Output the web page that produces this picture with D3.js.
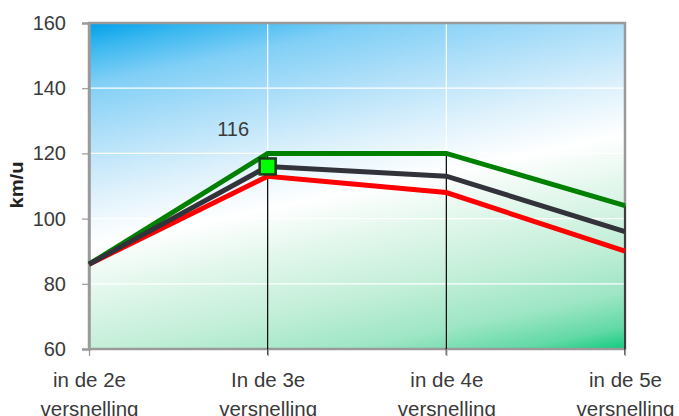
<!DOCTYPE html>
<html>
<head>
<meta charset="utf-8">
<script src="https://cdn.jsdelivr.net/npm/d3@7"></script>
<style>
  html, body { margin: 0; padding: 0; background: #fff; }
  svg { display: block; font-family: "Liberation Sans", Arial, sans-serif; }
</style>
</head>
<body>
<svg id="chart" width="679" height="416"></svg>
<script>
// Gear positions along the x axis
const categories = [
  ["in de 2e", "versnelling"],
  ["In de 3e", "versnelling"],
  ["in de 4e", "versnelling"],
  ["in de 5e", "versnelling"]
];
// Speed (km/u) per gear for each series
const greenValues = [86, 120, 120, 104];
const darkValues  = [86, 116, 113, 96];
const redValues   = [86, 113, 108, 90];
const yTicks = [60, 80, 100, 120, 140, 160];
const yTitle = "km/u";
const markedIndex = 1; // highlighted point on the dark series

const textColor = "#3a3a3a";
const svg = d3.select("#chart");
const plotL = 89, plotR = 625, plotT = 23, plotB = 349;

const x = d3.scalePoint().domain(d3.range(categories.length)).range([plotL, plotR]);
const y = d3.scaleLinear().domain([60, 160]).range([plotB, plotT]);

// Background gradient: deep blue top-left, white band across the middle,
// deep green bottom-right; the band tilts slightly upward to the right.
const defs = svg.append("defs");
const gLen = 428;
const grad = defs.append("linearGradient")
  .attr("id", "bg").attr("gradientUnits", "userSpaceOnUse")
  .attr("x1", plotL).attr("y1", plotT)
  .attr("x2", plotL + 0.204 * gLen).attr("y2", plotT + 0.979 * gLen);
[
  [0.00, "#00a0ea"],
  [0.06, "#3cb8f0"],
  [0.14, "#80cff6"],
  [0.26, "#aedff9"],
  [0.40, "#dff2fc"],
  [0.51, "#ffffff"],
  [0.62, "#e2f7ec"],
  [0.75, "#c4efd9"],
  [0.87, "#9ee6c5"],
  [0.95, "#62d9a6"],
  [1.00, "#10cc80"]
].forEach(([o, c]) => grad.append("stop").attr("offset", o).attr("stop-color", c));

svg.append("rect")
  .attr("x", plotL).attr("y", plotT)
  .attr("width", plotR - plotL).attr("height", plotB - plotT)
  .attr("fill", "url(#bg)");

// White gridlines
svg.append("g").selectAll("line").data(yTicks.slice(1, -1)).join("line")
  .attr("x1", plotL).attr("x2", plotR)
  .attr("y1", d => y(d)).attr("y2", d => y(d))
  .attr("stroke", "#fff").attr("stroke-width", 1.2);
svg.append("g").selectAll("line").data(d3.range(1, categories.length - 1)).join("line")
  .attr("x1", d => x(d)).attr("x2", d => x(d))
  .attr("y1", plotT).attr("y2", plotB)
  .attr("stroke", "#fff").attr("stroke-width", 1.2);

// Plot border
svg.append("rect")
  .attr("x", plotL).attr("y", plotT)
  .attr("width", plotR - plotL).attr("height", plotB - plotT)
  .attr("fill", "none").attr("stroke", "#9a9a9a").attr("stroke-width", 2.5);

// Drop lines from the highest value down to the axis
const maxVals = categories.map((_, i) => Math.max(greenValues[i], darkValues[i], redValues[i]));
svg.append("g").selectAll("line").data(d3.range(1, categories.length)).join("line")
  .attr("x1", d => x(d)).attr("x2", d => x(d))
  .attr("y1", d => y(maxVals[d])).attr("y2", plotB + 6)
  .attr("stroke", "#000").attr("stroke-width", 1.2);

// Y axis
const yAxis = svg.append("g").attr("transform", `translate(${plotL},0)`)
  .call(d3.axisLeft(y).tickValues(yTicks).tickSize(7).tickPadding(16).tickFormat(d3.format("d")));
yAxis.select(".domain").attr("stroke", "#9a9a9a").attr("stroke-width", 2.5);
yAxis.selectAll(".tick line").attr("stroke", "#9a9a9a").attr("stroke-width", 1.2);
yAxis.selectAll(".tick text").attr("font-size", 20).attr("fill", textColor)
  .attr("font-family", "Liberation Sans, Arial, sans-serif");

// X axis
const xAxis = svg.append("g").attr("transform", `translate(0,${plotB})`)
  .call(d3.axisBottom(x).tickSize(7).tickFormat(""));
xAxis.select(".domain").remove();
xAxis.selectAll(".tick line").attr("stroke", "#9a9a9a").attr("stroke-width", 1.2);
xAxis.selectAll(".tick").each(function (d) {
  const t = d3.select(this).append("text")
    .attr("text-anchor", "middle").attr("fill", textColor)
    .attr("font-size", 20.5).attr("font-family", "Liberation Sans, Arial, sans-serif");
  categories[d].forEach((line, k) => {
    t.append("tspan").attr("x", 0).attr("y", 38 + k * 28.5).text(line);
  });
});

// Y axis title
svg.append("text")
  .attr("transform", `translate(23,185) rotate(-90)`)
  .attr("text-anchor", "middle").attr("font-weight", "bold")
  .attr("font-size", 18).attr("fill", "#222")
  .attr("textLength", 47).attr("lengthAdjust", "spacingAndGlyphs")
  .text(yTitle);

// Series lines
const line = d3.line().x((d, i) => x(i)).y(d => y(d));
[[redValues, "#ff0000"], [greenValues, "#008000"], [darkValues, "#32323a"]].forEach(([vals, col]) => {
  svg.append("path").datum(vals)
    .attr("d", line).attr("fill", "none")
    .attr("stroke", col).attr("stroke-width", 5)
    .attr("stroke-linejoin", "miter").attr("stroke-linecap", "butt");
});

// Highlighted point and its label
const mx = x(markedIndex), my = y(darkValues[markedIndex]);
svg.append("rect")
  .attr("x", mx - 8).attr("y", my - 8).attr("width", 16).attr("height", 16)
  .attr("fill", "#00ff00").attr("stroke", "#1c3a1c").attr("stroke-width", 2.5);
svg.append("text")
  .attr("x", mx - 34.5).attr("y", my - 30)
  .attr("text-anchor", "middle").attr("font-size", 20).attr("fill", textColor)
  .text(darkValues[markedIndex]);
</script>
</body>
</html>
